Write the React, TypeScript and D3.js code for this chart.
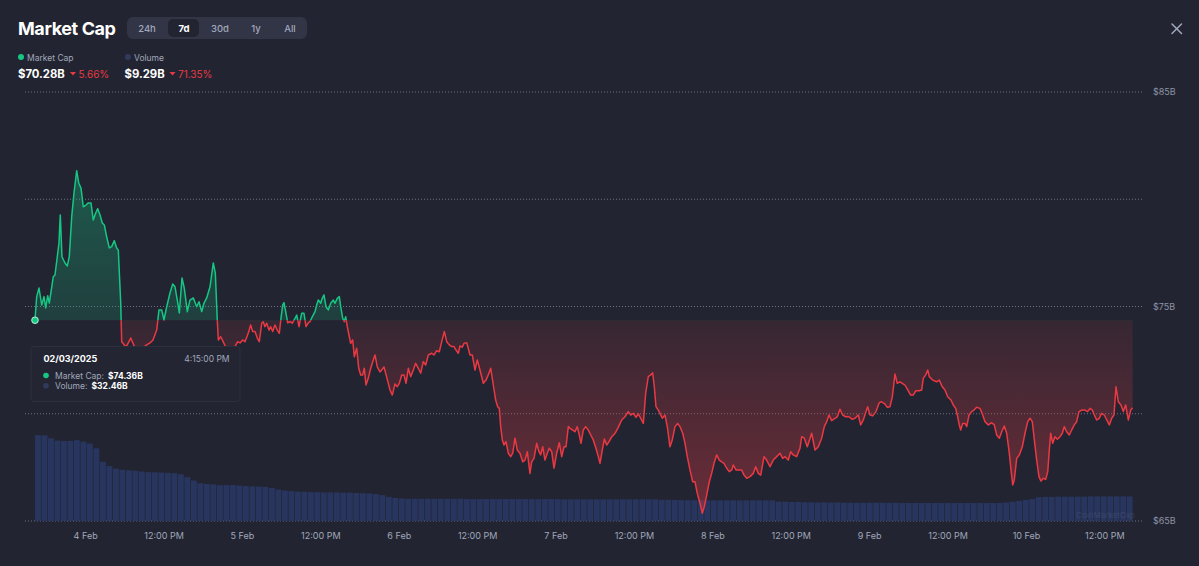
import React from 'react';
import * as d3 from 'd3';

// hours after 3 Feb 2025 4:15 PM
const hours = [
0, 0.26, 0.61, 1.03, 1.38, 1.64, 1.94, 2.19, 2.80, 3.06,
3.41, 3.67, 3.87, 4.13, 4.59, 4.94, 5.25, 5.62, 5.97, 6.38,
6.69, 7.04, 7.39, 7.81, 8.16, 8.57, 8.92, 9.29, 9.60, 9.95,
10.30, 10.61, 10.97, 11.37, 11.74, 12.14, 12.50, 12.75, 13.12, 13.27,
13.93, 14.65, 15.31, 16.07, 16.84, 17.60, 18.06, 18.63, 18.98, 19.39,
19.74, 20.16, 20.66, 21.08, 21.43, 21.78, 22.09, 22.50, 22.85, 23.31,
23.72, 24.23, 24.75, 25.10, 25.52, 25.87, 26.28, 26.79, 27.14, 27.29,
27.60, 27.90, 28.06, 28.42, 28.73, 29.39, 30.15, 31.03, 31.38, 31.79,
32.14, 32.65, 33.01, 33.32, 33.67, 34.03, 34.33, 34.70, 34.94, 35.20,
35.46, 35.82, 36.08, 36.38, 36.73, 37.09, 37.39, 37.65, 37.91, 38.11,
38.37, 38.68, 39.03, 39.38, 39.80, 40.06, 40.41, 40.82, 41.17, 41.48,
41.83, 42.09, 42.44, 42.86, 43.12, 43.36, 43.73, 43.97, 44.23, 44.54,
44.89, 45.26, 45.66, 45.92, 46.27, 46.58, 46.79, 47.10, 47.34, 47.56,
47.80, 48.11, 48.32, 48.63, 48.87, 49.24, 49.55, 49.85, 50.16, 50.40,
50.66, 51.01, 51.38, 51.78, 52.04, 52.39, 52.81, 53.42, 53.83, 54.34,
54.69, 55.10, 55.45, 55.76, 56.13, 56.48, 56.79, 57.14, 57.50, 57.90,
58.27, 58.67, 59.04, 59.43, 59.80, 60.20, 60.72, 61.07, 61.48, 61.88,
62.25, 62.65, 63.02, 63.41, 63.78, 64.13, 64.44, 64.79, 65.05, 65.40,
65.66, 66.08, 66.32, 66.58, 66.93, 67.35, 67.70, 68.11, 68.62, 69.03,
69.38, 69.75, 70.15, 70.51, 70.82, 71.07, 71.28, 71.53, 71.78, 72.09,
72.44, 72.81, 73.12, 73.47, 73.82, 74.23, 74.65, 75.00, 75.35, 75.76,
76.02, 76.38, 76.79, 77.14, 77.40, 77.71, 78.06, 78.41, 78.72, 79.09,
79.44, 79.85, 80.25, 80.62, 80.97, 81.28, 81.63, 81.89, 82.30, 82.65,
83.00, 83.31, 83.57, 83.92, 84.29, 84.69, 85.06, 85.45, 85.86, 86.22,
86.48, 86.83, 87.14, 87.50, 87.86, 88.27, 88.78, 89.24, 89.80, 90.30,
90.81, 91.18, 91.58, 91.99, 92.34, 92.71, 93.11, 93.47, 93.87, 94.24,
94.54, 94.79, 95.05, 95.40, 95.66, 96.01, 96.43, 96.78, 97.19, 97.54,
97.96, 98.37, 98.72, 99.14, 99.49, 99.84, 100.25, 100.67, 101.02, 101.37,
101.78, 102.14, 102.44, 102.81, 103.21, 103.57, 103.93, 104.34, 104.74, 105.10,
105.46, 105.87, 106.27, 106.64, 106.88, 107.29, 107.65, 108.17, 108.52, 108.93,
109.44, 109.94, 110.31, 110.71, 111.08, 111.58, 111.99, 112.50, 113.00, 113.52,
114.03, 114.44, 114.80, 115.30, 115.67, 116.06, 116.58, 117.09, 117.35, 117.75,
118.21, 118.88, 119.39, 119.89, 120.41, 120.81, 121.18, 121.53, 121.94, 122.45,
122.80, 123.21, 123.62, 124.08, 124.59, 125.09, 125.51, 126.01, 126.38, 126.78,
127.19, 127.45, 127.80, 128.22, 128.72, 129.23, 129.59, 130.10, 130.45, 130.87,
131.22, 131.63, 131.98, 132.40, 132.75, 133.16, 133.58, 134.03, 134.43, 134.80,
135.31, 135.72, 135.96, 136.33, 136.64, 136.88, 137.40, 138.01, 138.41, 138.87,
139.28, 139.70, 140.20, 140.55, 140.92, 141.23, 141.47, 141.69, 141.99, 142.35,
142.61, 142.96, 143.37, 143.72, 144.13, 144.64, 145.00, 145.41, 145.91, 146.43,
146.83, 147.20, 147.60, 147.96, 148.36, 148.73, 149.13, 149.39, 149.65, 149.89,
150.26, 150.66, 151.12, 151.53, 151.95, 152.30, 152.65, 152.96, 153.32, 153.67,
153.98, 154.33, 154.70, 155.01, 155.25, 155.46, 155.77, 156.12, 156.48, 156.89,
157.24, 157.54, 157.91, 158.31, 158.67, 159.07, 159.44, 159.79, 160.20, 160.71,
161.12, 161.48, 161.83, 162.14, 162.50, 162.90, 163.27, 163.67, 164.04, 164.44,
164.80, 165.15, 165.46, 165.81, 166.22, 166.58, 166.94, 167.34, 167.71, 168.00,
];

// market cap, $B
const marketCap = [
74.36, 75.46, 75.86, 75.07, 75.46, 74.93, 75.50, 75.16, 76.39, 76.47,
77.32, 77.96, 79.27, 77.32, 77.03, 76.89, 77.32, 79.19, 80.29, 81.33,
80.76, 80.52, 79.65, 79.73, 79.83, 79.83, 79.03, 79.36, 79.56, 79.27,
78.89, 78.80, 78.25, 77.73, 77.79, 78.07, 77.73, 77.63, 75.16, 73.36,
73.11, 73.53, 73.07, 72.88, 73.16, 73.30, 73.44, 73.90, 74.84, 74.84,
74.37, 74.99, 75.63, 76.05, 75.92, 75.30, 74.70, 76.33, 75.86, 74.76,
75.30, 75.40, 74.99, 75.22, 74.76, 75.16, 75.40, 75.92, 76.70, 77.03,
76.56, 74.37, 73.44, 73.59, 73.41, 72.97, 72.88, 73.36, 73.30, 73.44,
73.36, 73.76, 74.14, 73.83, 73.83, 73.53, 73.36, 74.22, 74.29, 74.06,
74.22, 73.90, 74.06, 73.83, 74.14, 73.90, 73.75, 74.45, 75.07, 75.18,
74.76, 74.24, 74.29, 74.22, 74.45, 74.60, 74.06, 74.68, 74.68, 74.06,
74.24, 74.29, 74.52, 74.76, 75.07, 75.30, 75.15, 75.38, 75.54, 74.99,
74.84, 75.15, 75.30, 75.15, 75.38, 75.46, 74.99, 74.45, 74.29, 74.52,
74.06, 73.59, 73.28, 73.44, 72.66, 73.05, 72.12, 71.81, 71.81, 72.12,
71.34, 71.65, 72.12, 72.51, 72.74, 72.19, 71.95, 72.18, 71.71, 71.11,
70.87, 71.39, 71.26, 71.42, 71.81, 71.81, 71.42, 72.12, 71.73, 72.04,
72.35, 72.12, 71.89, 72.43, 72.27, 72.74, 72.82, 72.74, 72.94, 72.89,
73.36, 73.83, 73.36, 73.21, 73.13, 73.13, 72.97, 72.82, 73.16, 73.10,
73.28, 73.31, 73.05, 72.74, 72.74, 72.04, 72.51, 72.04, 71.42, 71.57,
71.81, 72.12, 71.34, 70.64, 70.33, 70.25, 69.40, 68.78, 68.54, 68.70,
68.16, 68.00, 68.16, 68.86, 68.31, 68.16, 67.76, 67.84, 68.23, 67.22,
67.76, 67.92, 68.62, 68.23, 68.08, 68.46, 67.84, 68.16, 68.39, 68.23,
67.46, 68.16, 68.65, 68.00, 68.46, 68.46, 69.40, 69.32, 69.24, 69.16,
69.40, 69.01, 68.62, 69.24, 69.40, 69.24, 69.01, 68.78, 68.39, 68.00,
67.69, 68.31, 68.82, 68.54, 68.70, 68.92, 69.09, 69.34, 69.71, 69.86,
70.10, 69.94, 70.02, 69.83, 69.99, 69.79, 69.55, 70.95, 71.73, 71.81,
71.91, 71.26, 70.33, 70.17, 70.02, 69.79, 69.94, 69.40, 68.46, 68.78,
69.40, 69.55, 69.40, 69.09, 68.62, 68.00, 67.38, 66.83, 66.83, 66.29,
65.83, 65.36, 65.67, 66.21, 66.83, 67.22, 67.69, 68.08, 67.84, 67.76,
67.69, 67.46, 67.30, 67.38, 67.61, 67.38, 67.38, 67.38, 67.14, 66.99,
67.07, 67.22, 67.53, 67.22, 67.14, 68.00, 67.84, 67.53, 67.84, 68.00,
68.16, 67.92, 68.00, 67.84, 68.23, 68.08, 68.00, 68.39, 68.93, 68.86,
68.46, 69.09, 68.31, 68.46, 68.86, 69.40, 69.63, 69.94, 69.68, 69.79,
69.86, 70.21, 69.94, 69.86, 69.86, 69.74, 69.79, 69.94, 69.48, 69.71,
70.10, 70.33, 69.94, 69.90, 70.10, 70.52, 70.56, 70.45, 70.30, 70.33,
70.79, 71.85, 71.42, 71.49, 71.42, 71.34, 71.11, 70.87, 70.87, 71.07,
71.07, 71.11, 71.65, 71.81, 72.04, 71.73, 71.57, 71.49, 71.57, 71.26,
71.11, 70.79, 70.64, 70.41, 70.25, 69.86, 69.48, 69.24, 69.55, 69.55,
69.40, 69.94, 70.10, 70.17, 70.30, 70.25, 69.99, 69.63, 69.48, 69.58,
69.48, 69.01, 68.86, 69.16, 69.43, 69.09, 68.16, 67.38, 66.68, 66.91,
67.92, 68.08, 68.46, 69.09, 69.63, 69.79, 69.63, 68.78, 67.84, 67.07,
66.86, 66.99, 66.94, 67.30, 68.31, 69.09, 68.62, 68.93, 68.81, 68.93,
69.09, 69.40, 69.16, 69.01, 69.24, 69.48, 69.63, 70.10, 70.17, 70.17,
70.10, 70.25, 70.17, 69.94, 69.71, 69.79, 70.02, 69.94, 69.71, 69.48,
69.79, 69.94, 71.26, 70.56, 70.41, 70.10, 70.41, 69.71, 70.17, 70.28,
];

// hourly 24h volume, $B
const volume = [
32.46, 32.4, 31.3, 30.4, 30.3, 30.3, 30.6, 30.0, 29.3, 27.5,
22.4, 20.8, 19.8, 19.4, 19.2, 19.0, 18.7, 18.5, 18.4, 18.3,
18.2, 18.1, 17.7, 16.6, 15.3, 14.3, 14.0, 13.8, 13.6, 13.6,
13.6, 13.4, 13.2, 13.1, 13.0, 12.9, 12.5, 11.9, 11.5, 11.3,
11.1, 11.05, 10.9, 10.9, 10.8, 10.8, 10.8, 10.7, 10.7, 10.6,
10.5, 10.4, 10.2, 9.8, 9.1, 8.7, 8.5, 8.4, 8.4, 8.4,
8.4, 8.4, 8.4, 8.4, 8.4, 8.4, 8.3, 8.3, 8.3, 8.3,
8.3, 8.3, 8.3, 8.3, 8.3, 8.3, 8.3, 8.3, 8.3, 8.3,
8.3, 8.2, 8.2, 8.2, 8.2, 8.2, 8.2, 8.2, 8.2, 8.2,
8.2, 8.2, 8.2, 8.2, 8.2, 8.2, 8.0, 8.0, 8.0, 7.9,
7.9, 7.9, 7.9, 7.8, 7.8, 7.8, 7.8, 7.8, 7.8, 7.8,
7.8, 7.8, 7.8, 7.8, 7.3, 7.3, 7.2, 7.2, 7.1, 7.1,
7.0, 7.0, 7.0, 7.0, 6.9, 6.9, 6.9, 6.9, 6.9, 6.9,
6.9, 6.9, 6.9, 6.8, 6.8, 6.8, 6.8, 6.8, 6.8, 6.8,
6.8, 6.8, 6.8, 6.8, 6.8, 6.8, 6.8, 6.8, 6.8, 7.0,
7.3, 7.6, 8.0, 8.3, 9.0, 9.1, 9.1, 9.2, 9.2, 9.2,
9.2, 9.2, 9.3, 9.3, 9.3, 9.3, 9.3, 9.3, 9.29,
];

const yGrid = [65, 70, 75, 80, 85];
const yLabeled = [65, 75, 85];
const ranges = ['24h', '7d', '30d', '1y', 'All'];

const BG = '#222531';
const GREEN = '#16c784';
const RED = '#ea3943';
const GRAY = '#a1a7bb';
const VOL = '#28355f';
const FONT = 'Inter, "Noto Sans", sans-serif';

export default function App() {
  const HOUR = 3600e3;
  const start = Date.UTC(2025, 1, 3, 16, 15);
  const data = hours.map((h, i) => ({ t: new Date(start + h * HOUR), v: marketCap[i] }));

  const x = d3.scaleUtc().domain([new Date(start), new Date(start + 168 * HOUR)]).range([35, 1132.6]);
  const y = d3.scaleLinear().domain([65, 85]).range([521, 92]);
  const yv = d3.scaleLinear().domain([0, (d3.max(volume) as number) * 5]).range([521, 92]);
  const band = d3.scaleBand<number>().domain(volume.map((_, i) => i)).range([35, 1132.6]).paddingInner(0.1);

  const baseY = y(marketCap[0]);
  const line = d3.line<{ t: Date; v: number }>().x(d => x(d.t)).y(d => y(d.v));
  const area = d3.area<{ t: Date; v: number }>().x(d => x(d.t)).y0(baseY).y1(d => y(d.v));
  const linePath = line(data) || '';
  const areaPath = area(data) || '';

  const xTicks = d3.utcHour.every(12)!.range(new Date(Date.UTC(2025, 1, 4)), new Date(start + 168 * HOUR));
  const fmtDay = d3.utcFormat('%-d %b');
  const fmtNoon = d3.utcFormat('%-I:%M %p');

  const btnX = [147, 184, 220, 256, 290];

  return (
    <div style={{ position: 'absolute', left: 0, top: 0, width: 1199, height: 566, background: BG }}>
      <svg width={1199} height={566} style={{ display: 'block', fontFamily: FONT }}>
        <defs>
          <linearGradient id="gGreen" gradientUnits="userSpaceOnUse" x1="0" y1={y(82)} x2="0" y2={baseY}>
            <stop offset="0" stopColor={GREEN} stopOpacity={0.34} />
            <stop offset="1" stopColor={GREEN} stopOpacity={0.16} />
          </linearGradient>
          <linearGradient id="gRed" gradientUnits="userSpaceOnUse" x1="0" y1={baseY} x2="0" y2={y(65)}>
            <stop offset="0" stopColor={RED} stopOpacity={0.1} />
            <stop offset="1" stopColor={RED} stopOpacity={0.38} />
          </linearGradient>
          <clipPath id="cAbove">
            <rect x={0} y={0} width={1199} height={baseY} />
          </clipPath>
          <clipPath id="cBelow">
            <rect x={0} y={baseY} width={1199} height={566 - baseY} />
          </clipPath>
        </defs>

        {/* header */}
        <text x={18} y={35} fontSize={18} fontWeight={700} fill="#fff" letterSpacing={-0.4}>Market Cap</text>
        <rect x={127} y={17} width={180} height={22} rx={6} fill="#323546" />
        <rect x={168} y={19} width={31} height={18} rx={5} fill={BG} />
        {ranges.map((r, i) => (
          <text key={r} x={btnX[i]} y={31.5} fontSize={9.5} textAnchor="middle"
            fontWeight={r === '7d' ? 700 : 500} fill={r === '7d' ? '#fff' : GRAY}>{r}</text>
        ))}
        <g stroke={GRAY} strokeWidth={1.5} strokeLinecap="round">
          <line x1={1172} y1={24} x2={1181.5} y2={33.5} />
          <line x1={1181.5} y1={24} x2={1172} y2={33.5} />
        </g>

        {/* legend */}
        <circle cx={21} cy={57} r={3} fill={GREEN} />
        <text x={27} y={60.5} fontSize={8.5} fill={GRAY}>Market Cap</text>
        <circle cx={128} cy={57} r={3} fill="#313a5c" />
        <text x={134} y={60.5} fontSize={8.5} fill={GRAY}>Volume</text>
        <text x={18} y={78} fontSize={11.3} fontWeight={700} fill="#fff">$70.28B</text>
        <path d="M70,72 L76,72 L73,75.5 Z" fill={RED} />
        <text x={78.5} y={78} fontSize={10} fill={RED}>5.66%</text>
        <text x={124.5} y={78} fontSize={11.3} fontWeight={700} fill="#fff">$9.29B</text>
        <path d="M169.5,72 L175.5,72 L172.5,75.5 Z" fill={RED} />
        <text x={178} y={78} fontSize={10} fill={RED}>71.35%</text>

        {/* grid */}
        {yGrid.map(v => (
          <line key={v} x1={25} x2={1143} y1={y(v)} y2={y(v)} stroke="#6c7183" strokeWidth={1} strokeDasharray="1,2" />
        ))}
        {yLabeled.map(v => (
          <text key={v} x={1153} y={y(v) + 3.3} fontSize={9} fill="#8d93a6">${v}B</text>
        ))}

        {/* volume bars */}
        {volume.map((v, i) => (
          <rect key={i} x={band(i)} y={yv(v)} width={band.bandwidth()} height={yv(0) - yv(v)} fill={VOL} />
        ))}

        {/* areas */}
        <path d={areaPath} fill="url(#gGreen)" clipPath="url(#cAbove)" />
        <path d={areaPath} fill="url(#gRed)" clipPath="url(#cBelow)" />
        <path d={linePath} fill="none" stroke={GREEN} strokeWidth={1.5} strokeLinejoin="round" clipPath="url(#cAbove)" />
        <path d={linePath} fill="none" stroke={RED} strokeWidth={1.5} strokeLinejoin="round" clipPath="url(#cBelow)" />

        {/* x axis labels */}
        {xTicks.map(t => (
          <text key={+t} x={x(t)} y={538.5} fontSize={9} fill={GRAY} textAnchor="middle">
            {t.getUTCHours() === 0 ? fmtDay(t) : fmtNoon(t)}
          </text>
        ))}

        {/* watermark */}
        <text x={1135} y={518} fontSize={8} fill="#ffffff" opacity={0.08} textAnchor="end">CoinMarketCap</text>

        {/* start marker */}
        <circle cx={x(data[0].t)} cy={y(data[0].v)} r={3.3} fill={GREEN} stroke="#b9f0da" strokeWidth={1} />

        {/* tooltip */}
        <rect x={31} y={346.5} width={209} height={55} rx={3} fill="#232632" stroke="#2c303d" strokeWidth={1} />
        <text x={43.5} y={361.5} fontSize={9} fontWeight={700} fill="#fff">02/03/2025</text>
        <text x={229.5} y={361.5} fontSize={8.5} fill={GRAY} textAnchor="end">4:15:00 PM</text>
        <circle cx={46} cy={375.5} r={2.8} fill={GREEN} />
        <text x={55} y={379} fontSize={8.5} fill={GRAY}>Market Cap:</text>
        <text x={108} y={379} fontSize={8.5} fontWeight={700} fill="#fff">$74.36B</text>
        <circle cx={46} cy={385.8} r={2.8} fill="#313a5c" />
        <text x={55} y={389.3} fontSize={8.5} fill={GRAY}>Volume:</text>
        <text x={91.5} y={389.3} fontSize={8.5} fontWeight={700} fill="#fff">$32.46B</text>
      </svg>
    </div>
  );
}
